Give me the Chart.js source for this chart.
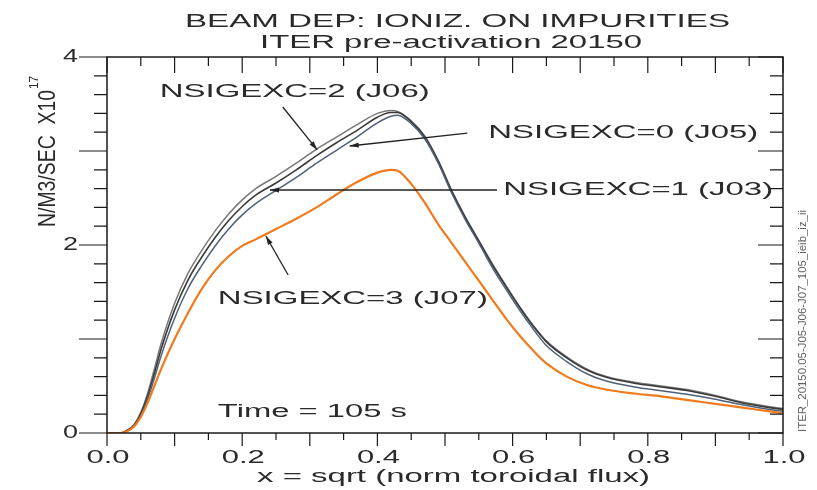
<!DOCTYPE html>
<html>
<head>
<meta charset="utf-8">
<script src="https://cdn.jsdelivr.net/npm/chart.js@4/dist/chart.umd.min.js"></script>
<style>
html,body{margin:0;padding:0;background:#fff;}
canvas{display:block;}
</style>
</head>
<body>
<canvas id="c" width="817" height="490"></canvas>
<script>
// ---- data ----
const xValues = [0,0.02,0.03,0.04,0.05,0.06,0.07,0.08,0.10,0.12,0.14,0.16,0.18,0.20,0.22,0.25,0.28,0.31,0.34,0.37,0.40,0.42,0.43,0.45,0.47,0.49,0.51,0.53,0.55,0.57,0.59,0.61,0.63,0.65,0.68,0.71,0.74,0.78,0.82,0.86,0.90,0.94,0.98,1.0];
const j06 = [0,0,0.03,0.09,0.22,0.42,0.68,0.95,1.38,1.70,1.94,2.15,2.33,2.48,2.60,2.73,2.87,3.02,3.15,3.28,3.40,3.43,3.42,3.32,3.16,2.90,2.58,2.30,2.05,1.80,1.57,1.35,1.15,0.98,0.81,0.68,0.60,0.54,0.50,0.46,0.40,0.33,0.28,0.26];
const j05 = [0,0,0.03,0.08,0.20,0.39,0.63,0.89,1.31,1.63,1.87,2.08,2.26,2.41,2.53,2.66,2.80,2.95,3.09,3.22,3.36,3.41,3.41,3.31,3.15,2.89,2.57,2.29,2.04,1.79,1.56,1.34,1.14,0.97,0.80,0.67,0.59,0.53,0.49,0.45,0.39,0.32,0.27,0.25];
const j03 = [0,0,0.02,0.07,0.18,0.36,0.58,0.82,1.22,1.54,1.78,1.99,2.17,2.32,2.44,2.58,2.72,2.87,3.01,3.15,3.30,3.37,3.38,3.29,3.13,2.87,2.55,2.27,2.02,1.76,1.53,1.31,1.11,0.93,0.76,0.63,0.55,0.49,0.45,0.41,0.36,0.30,0.25,0.23];
const j07 = [0,0,0.02,0.07,0.17,0.32,0.50,0.68,1.00,1.28,1.53,1.73,1.88,1.99,2.06,2.17,2.28,2.40,2.54,2.67,2.77,2.80,2.79,2.65,2.45,2.22,2.02,1.82,1.62,1.42,1.22,1.04,0.88,0.74,0.60,0.51,0.46,0.42,0.39,0.35,0.31,0.27,0.23,0.21];
const seriesNames = ['NSIGEXC=2 (J06)','NSIGEXC=0 (J05)','NSIGEXC=1 (J03)','NSIGEXC=3 (J07)'];
const xTickLabels = ['0.0','0.2','0.4','0.6','0.8','1.0'];
const yTickLabels = ['0','2','4'];
const titleLines = ['BEAM DEP: IONIZ. ON IMPURITIES','ITER pre-activation 20150'];
const xTitle = 'x = sqrt (norm toroidal flux)';
const yTitle = 'N/M3/SEC  X10';
const yTitleExp = '17';
const timeLabel = 'Time = 105 s';
const sideLabel = 'ITER_20150.05-J05-J06-J07_105_ieib_iz_ii';

// annotations: [label, labelX, labelY, lineFromX, lineFromY, tipX, tipY] in data units
const annotations = [
  [seriesNames[0], 0.078, 3.628, 0.260, 3.468, 0.311, 3.011],
  [seriesNames[1], 0.564, 3.191, 0.533, 3.191, 0.359, 3.053],
  [seriesNames[2], 0.586, 2.585, 0.577, 2.585, 0.241, 2.585],
  [seriesNames[3], 0.164, 1.426, 0.268, 1.681, 0.235, 2.096]
];

const toPts = arr => arr.map((v,i)=>({x:xValues[i], y:v}));
const FONT = '"Liberation Sans", Arial, sans-serif';
const TXT = '#2a2a2a';

function fitText(ctx, text, x, y, width, size, align){
  ctx.save();
  ctx.font = size + 'px ' + FONT;
  const w = ctx.measureText(text).width;
  const s = width / w;
  ctx.translate(x, y);
  ctx.scale(s, 1);
  ctx.textBaseline = 'middle';
  ctx.textAlign = align || 'left';
  ctx.fillStyle = TXT;
  ctx.fillText(text, 0, 0);
  ctx.restore();
}

function arrow(ctx, x1, y1, x2, y2){
  ctx.save();
  ctx.strokeStyle = '#222';
  ctx.fillStyle = '#222';
  ctx.lineWidth = 1.3;
  ctx.beginPath(); ctx.moveTo(x1,y1); ctx.lineTo(x2,y2); ctx.stroke();
  const a = Math.atan2(y2-y1, x2-x1);
  const L = 9, W = 2.6;
  ctx.beginPath();
  ctx.moveTo(x2, y2);
  ctx.lineTo(x2 - L*Math.cos(a) + W*Math.sin(a), y2 - L*Math.sin(a) - W*Math.cos(a));
  ctx.lineTo(x2 - L*Math.cos(a) - W*Math.sin(a), y2 - L*Math.sin(a) + W*Math.cos(a));
  ctx.closePath(); ctx.fill();
  ctx.restore();
}

const decor = {
  id:'decor',
  afterDatasetsDraw(chart){
    const ctx = chart.ctx, xs = chart.scales.x, ys = chart.scales.y;
    const L = xs.getPixelForValue(0), R = xs.getPixelForValue(1);
    const T = ys.getPixelForValue(4), B = ys.getPixelForValue(0);
    ctx.save();
    ctx.strokeStyle = '#1a1a1a';
    ctx.lineWidth = 1.5;
    ctx.strokeRect(L, T, R-L, B-T);
    ctx.lineWidth = 1.2;
    ctx.beginPath();
    // x ticks
    for (let i=0;i<=20;i++){
      const v = i*0.05, px = xs.getPixelForValue(v);
      const major = i%2===0;
      ctx.moveTo(px, B); ctx.lineTo(px, B + (major?13:7));
      ctx.moveTo(px, T); ctx.lineTo(px, T + (major?16:9));
    }
    // y ticks
    for (let i=0;i<=20;i++){
      const v = i*0.2, py = ys.getPixelForValue(v);
      const major = i%5===0;
      ctx.moveTo(L, py); ctx.lineTo(L - (major?28:13), py);
      ctx.moveTo(R, py); ctx.lineTo(R - (major?25:13), py);
    }
    ctx.stroke();
    ctx.restore();

    // tick labels
    xTickLabels.forEach(t=>{
      const px = xs.getPixelForValue(parseFloat(t));
      fitText(ctx, t, px+1, B+25, 43, 18, 'center');
    });
    yTickLabels.forEach(t=>{
      const py = ys.getPixelForValue(parseFloat(t));
      fitText(ctx, t, L-44, py, 15, 18, 'left');
    });

    // titles
    fitText(ctx, titleLines[0], 185, 22, 545, 18, 'left');
    fitText(ctx, titleLines[1], 260, 43, 382, 18, 'left');
    fitText(ctx, xTitle, 257, 477, 393, 18, 'left');

    // y title rotated
    ctx.save();
    ctx.translate(48, 227);
    ctx.rotate(-Math.PI/2);
    fitText(ctx, yTitle, 0, 0, 137, 24, 'left');
    fitText(ctx, yTitleExp, 138, -14, 13, 13, 'left');
    ctx.restore();

    // side label
    ctx.save();
    ctx.translate(803, 432);
    ctx.rotate(-Math.PI/2);
    ctx.globalAlpha = 0.75;
    fitText(ctx, sideLabel, 0, 0, 222, 10, 'left');
    ctx.restore();

    // annotations
    annotations.forEach(a=>{
      const [lab, lx, ly, fx, fy, tx, ty] = a;
      fitText(ctx, lab, xs.getPixelForValue(lx), ys.getPixelForValue(ly), 270, 18, 'left');
      arrow(ctx, xs.getPixelForValue(fx), ys.getPixelForValue(fy), xs.getPixelForValue(tx), ys.getPixelForValue(ty));
    });
    fitText(ctx, timeLabel, xs.getPixelForValue(0.164), ys.getPixelForValue(0.223), 189, 18, 'left');
  }
};

new Chart(document.getElementById('c'), {
  type:'line',
  data:{
    datasets:[
      {label:seriesNames[3], data:toPts(j07), borderColor:'#f07a1c', borderWidth:2.2},
      {label:seriesNames[2], data:toPts(j03), borderColor:'#4f6079', borderWidth:1.5},
      {label:seriesNames[1], data:toPts(j05), borderColor:'#3a3a3a', borderWidth:1.6},
      {label:seriesNames[0], data:toPts(j06), borderColor:'#787878', borderWidth:1.5}
    ]
  },
  options:{
    responsive:false,
    animation:false,
    devicePixelRatio:1,
    layout:{padding:{left:107, right:34, top:57, bottom:57}},
    elements:{point:{radius:0}, line:{cubicInterpolationMode:'monotone', fill:false}},
    plugins:{legend:{display:false}, tooltip:{enabled:false}, title:{display:false}},
    scales:{
      x:{type:'linear', min:0, max:1, display:false},
      y:{type:'linear', min:0, max:4, display:false}
    }
  },
  plugins:[decor]
});
</script>
</body>
</html>
